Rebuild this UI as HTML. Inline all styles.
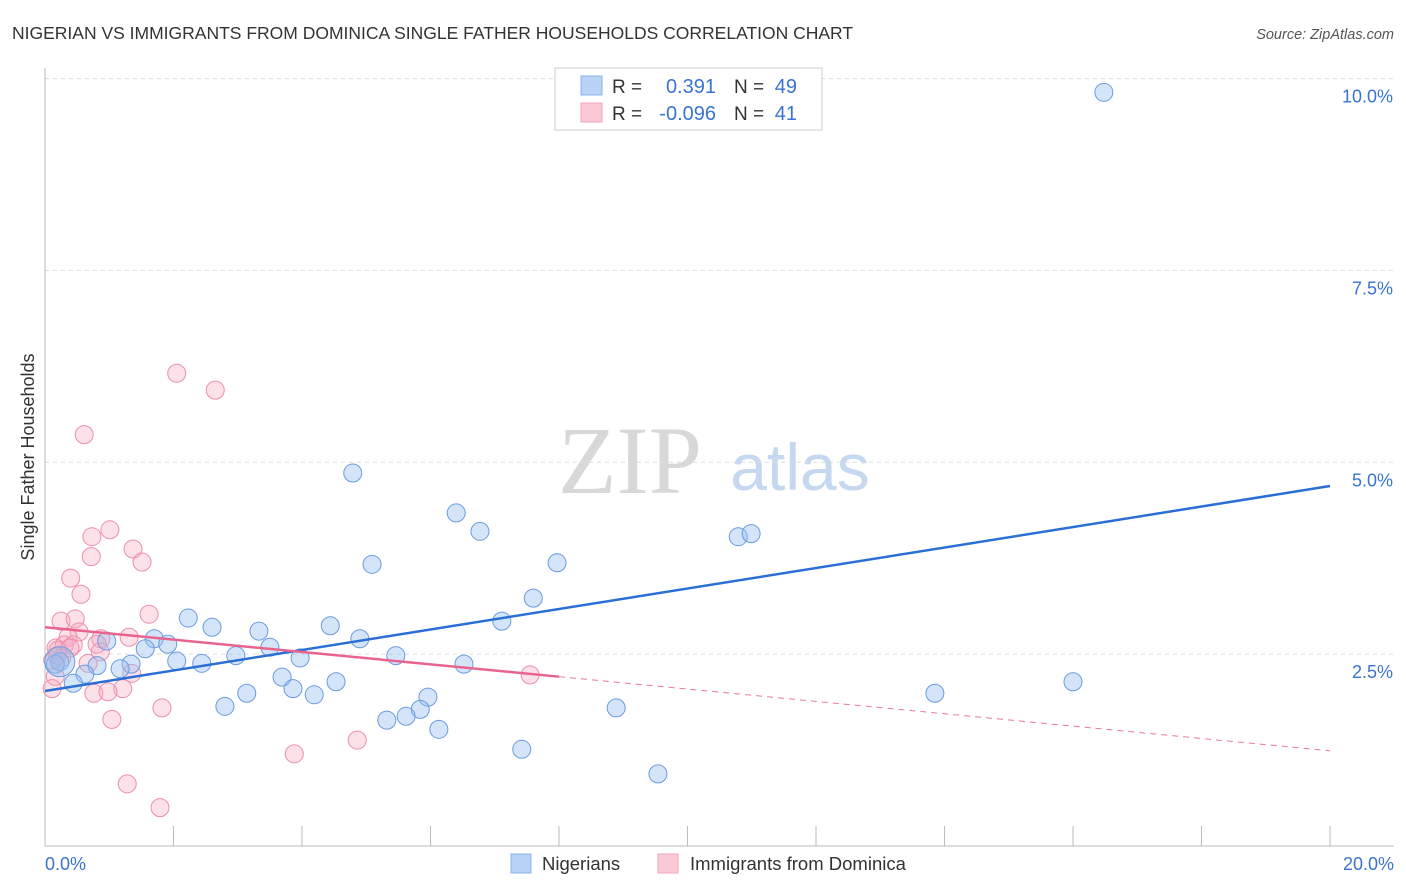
<!DOCTYPE html>
<html><head><meta charset="utf-8">
<style>
body{margin:0;background:#fff;font-family:"Liberation Sans",sans-serif;}
svg{display:block}
</style></head>
<body>
<svg id="chart" width="1406" height="892" viewBox="0 0 1406 892">
<text x="12" y="39" font-size="17.5" fill="#333">NIGERIAN VS IMMIGRANTS FROM DOMINICA SINGLE FATHER HOUSEHOLDS CORRELATION CHART</text>
<text x="1394" y="39" font-size="14.5" fill="#555" font-style="italic" text-anchor="end">Source: ZipAtlas.com</text>
<text x="630" y="493" font-size="96" fill="#d8d8d8" font-family="Liberation Serif,serif" text-anchor="middle">ZIP</text>
<text x="800" y="490" font-size="66" fill="#c5d8f0" text-anchor="middle">atlas</text>
<text transform="translate(34,457) rotate(-90)" font-size="18" fill="#333" text-anchor="middle">Single Father Households</text>
<g id="grid"></g>
<g id="axes"></g>
<g id="pinkPts"></g>
<g id="bluePts"></g>
<g id="trends"></g>
<g>
<rect x="555" y="68" width="267" height="62" fill="#fff" stroke="#ccc"/>
<rect x="581" y="76" width="21" height="19" fill="#b9d3f6" stroke="#8db3e8"/>
<rect x="581" y="103" width="21" height="19" fill="#fbcad7" stroke="#f0a6bb"/>
<text x="612" y="93" font-size="19" fill="#333">R =</text>
<text x="716" y="93" font-size="20" fill="#3a74d0" text-anchor="end">0.391</text>
<text x="734" y="93" font-size="19" fill="#333">N =</text>
<text x="797" y="93" font-size="20" fill="#3a74d0" text-anchor="end">49</text>
<text x="612" y="120" font-size="19" fill="#333">R =</text>
<text x="716" y="120" font-size="20" fill="#3a74d0" text-anchor="end">-0.096</text>
<text x="734" y="120" font-size="19" fill="#333">N =</text>
<text x="797" y="120" font-size="20" fill="#3a74d0" text-anchor="end">41</text>
</g>
<g>
<rect x="511" y="854" width="20" height="19" fill="#b9d3f6" stroke="#8db3e8"/>
<text x="542" y="870" font-size="18.5" fill="#333">Nigerians</text>
<rect x="658" y="854" width="20" height="19" fill="#fbcad7" stroke="#f0a6bb"/>
<text x="690" y="870" font-size="18.5" fill="#333">Immigrants from Dominica</text>
</g>
</svg>
<script>
const blueX=[16.48,4.79,6.40,6.77,10.79,10.99,5.09,7.97,7.60,7.11,2.23,2.60,3.33,4.44,4.90,1.70,1.91,0.96,1.56,3.50,2.97,3.97,5.46,6.52,2.05,2.44,1.34,1.17,0.81,0.23,0.16,0.62,0.44,3.69,4.53,3.86,3.14,4.19,5.96,2.80,5.84,5.62,5.32,8.89,6.13,7.42,9.54,13.85,16.00];
const blueY=[9.82,4.86,4.34,4.10,4.03,4.07,3.67,3.69,3.23,2.93,2.97,2.85,2.80,2.87,2.70,2.70,2.63,2.67,2.57,2.59,2.48,2.45,2.48,2.37,2.41,2.38,2.37,2.31,2.35,2.40,2.37,2.24,2.12,2.20,2.14,2.05,1.99,1.97,1.94,1.82,1.78,1.69,1.64,1.80,1.52,1.26,0.94,1.99,2.14];
const pinkX=[2.05,2.65,0.61,1.01,0.73,1.37,0.72,1.51,0.40,0.56,1.62,0.25,0.47,0.53,0.36,0.87,1.31,0.81,0.17,0.30,0.44,0.86,0.12,0.19,0.26,0.67,0.16,0.11,1.35,1.21,0.76,0.98,1.04,1.82,4.86,3.88,7.55,1.28,1.79,0.20,0.39];
const pinkY=[6.16,5.94,5.36,4.12,4.03,3.87,3.77,3.70,3.49,3.28,3.02,2.93,2.96,2.79,2.72,2.70,2.72,2.63,2.58,2.62,2.62,2.53,2.42,2.48,2.45,2.38,2.21,2.05,2.25,2.05,1.99,2.01,1.65,1.80,1.38,1.20,2.23,0.81,0.50,2.55,2.58];
const blueTrend=[2.02,4.69];   // y at x=0 and x=20
const pinkTrend=[2.85,1.24];   // y at x=0 and x=20
const pinkSolidEnd=8.0;
const xTicks=[0,2,4,6,8,10,12,14,16,18,20];
const yTicks=[2.5,5.0,7.5,10.0];
const yTickLabels=["2.5%","5.0%","7.5%","10.0%"];

const X0=45,X1=1330,Y0=846,PPU=76.75;
const sx=v=>X0+(v/20)*(X1-X0);
const sy=v=>Y0-v*PPU;
const NS="http://www.w3.org/2000/svg";
function mk(parent,tag,attrs){const e=document.createElementNS(NS,tag);for(const k in attrs)e.setAttribute(k,attrs[k]);document.getElementById(parent).appendChild(e);return e;}

yTicks.forEach((t,i)=>{
  const g=mk('grid','line',{x1:X0,x2:1394,y1:sy(t),y2:sy(t),stroke:'#ddd','stroke-dasharray':'4,4'});
  
  
  const l=mk('grid','text',{x:1393,y:sy(t)+24,'font-size':18,fill:'#3a74d0','text-anchor':'end'});
  l.textContent=yTickLabels[i];
  
  
});
const ya=mk('axes','line',{x1:X0,x2:X0,y1:68,y2:Y0,stroke:'#bbb'});


const xa=mk('axes','line',{x1:X0,x2:1394,y1:Y0,y2:Y0,stroke:'#bbb'});


xTicks.forEach(t=>{
  const k=mk('axes','line',{x1:sx(t),x2:sx(t),y1:826,y2:Y0,stroke:'#bbb'});
  
  
});
const xl0=mk('axes','text',{x:45,y:870,'font-size':18,fill:'#3a74d0'});
xl0.textContent='0.0%';


const xl1=mk('axes','text',{x:1394,y:870,'font-size':18,fill:'#3a74d0','text-anchor':'end'});
xl1.textContent='20.0%';



pinkX.forEach((x,i)=>{
  const c=mk('pinkPts','circle',{cx:sx(x),cy:sy(pinkY[i]),r:9,fill:'rgba(246,170,192,0.35)',stroke:'#ec8fab','stroke-width':1});
  
  
});
blueX.forEach((x,i)=>{
  const c=mk('bluePts','circle',{cx:sx(x),cy:sy(blueY[i]),r:9,fill:'rgba(150,190,240,0.4)',stroke:'#6a9be0','stroke-width':1});
  
  
});
const big=mk('bluePts','circle',{cx:sx(blueX[29]),cy:sy(blueY[29]),r:15,fill:'rgba(150,190,240,0.45)',stroke:'#6a9be0'});



const pAt=x=>pinkTrend[0]+(pinkTrend[1]-pinkTrend[0])*x/20;
const bt=mk('trends','line',{x1:sx(0),y1:sy(blueTrend[0]),x2:sx(20),y2:sy(blueTrend[1]),stroke:'#2a6fd6','stroke-width':2.5});


const pt=mk('trends','line',{x1:sx(0),y1:sy(pAt(0)),x2:sx(pinkSolidEnd),y2:sy(pAt(pinkSolidEnd)),stroke:'#e8648e','stroke-width':2.5});


const pd=mk('trends','line',{x1:sx(pinkSolidEnd),y1:sy(pAt(pinkSolidEnd)),x2:sx(20),y2:sy(pAt(20)),stroke:'#e8789a','stroke-width':1,'stroke-dasharray':'6,5'});


</script>
</body></html>
